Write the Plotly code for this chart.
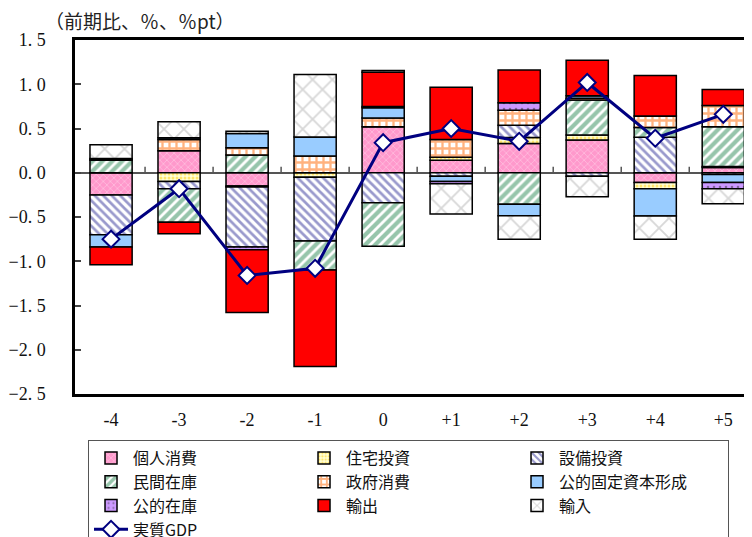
import plotly.graph_objects as go

categories = ["-4", "-3", "-2", "-1", "0", "+1", "+2", "+3", "+4", "+5"]

personal_consumption = [-0.25, 0.25, -0.15, 0.0, 0.52, 0.14, 0.33, 0.37, -0.11, 0.06]
housing_investment = [0.0, -0.10, -0.01, -0.05, 0.0, 0.035, 0.067, 0.056, -0.07, 0.01]
business_investment = [-0.45, -0.08, -0.68, -0.72, -0.34, -0.04, 0.14, -0.04, 0.40, -0.02]
private_inventory = [0.14, -0.38, 0.20, -0.33, -0.49, 0.0, -0.355, 0.395, 0.11, 0.45]
government_consumption = [0.01, 0.125, 0.083, 0.19, 0.10, 0.20, 0.17, 0.02, 0.13, 0.24]
public_investment = [-0.14, 0.02, 0.16, 0.215, 0.115, -0.06, -0.13, 0.03, -0.31, -0.09]
public_inventory = [0.01, 0.0, -0.03, 0.0, 0.015, -0.025, 0.083, 0.0, 0.0, -0.07]
exports = [-0.20, -0.13, -0.71, -1.09, 0.385, 0.59, 0.37, 0.40, 0.46, 0.18]
imports = [0.155, 0.18, 0.025, 0.705, 0.02, -0.34, -0.265, -0.23, -0.26, -0.17]
real_gdp = [-0.75, -0.18, -1.16, -1.08, 0.34, 0.50, 0.355, 1.02, 0.39, 0.66]

y_tick_vals = [1.5, 1.0, 0.5, 0.0, -0.5, -1.0, -1.5, -2.0, -2.5]
y_tick_text = ["1. 5", "1. 0", "0. 5", "0. 0", "−0. 5", "−1. 0", "−1. 5", "−2. 0", "−2. 5"]

JP = "Noto Sans CJK JP"
SERIF = "Liberation Serif"

series = [
    ("個人消費", personal_consumption, dict(shape="x", bgcolor="#ff99cc", fgcolor="#ffe0ef", size=5, solidity=0.3)),
    ("住宅投資", housing_investment, dict(shape=".", bgcolor="#ffffd8", fgcolor="#ffcc00", size=4, solidity=0.45)),
    ("設備投資", business_investment, dict(shape="\\", bgcolor="white", fgcolor="#333399", size=6, solidity=0.45)),
    ("民間在庫", private_inventory, dict(shape="/", bgcolor="white", fgcolor="#2e8b57", size=7, solidity=0.6)),
    ("政府消費", government_consumption, dict(shape="+", bgcolor="white", fgcolor="#ff6600", size=7, solidity=0.55)),
    ("公的固定資本形成", public_investment, dict(shape="", bgcolor="#99ccff", fgcolor="#99ccff")),
    ("公的在庫", public_inventory, dict(shape=".", bgcolor="#cc99ff", fgcolor="#333333", size=6, solidity=0.15)),
    ("輸出", exports, dict(shape="", bgcolor="#ff0000", fgcolor="#ff0000")),
    ("輸入", imports, dict(shape="x", bgcolor="white", fgcolor="#b0b0b0", size=14, solidity=0.25)),
]

fig = go.Figure()
for name, vals, pat in series:
    color = pat["bgcolor"]
    fig.add_trace(go.Bar(
        x=categories, y=vals, name=name, width=0.62,
        marker=dict(color=color, line=dict(color="black", width=1.5),
                    pattern=pat if pat["shape"] else None),
    ))

fig.add_trace(go.Scatter(
    x=categories, y=real_gdp, name="実質GDP", mode="lines+markers",
    line=dict(color="#000080", width=3),
    marker=dict(symbol="diamond", size=13, color="white", line=dict(color="#000080", width=2)),
))

# small category-boundary ticks on the zero line
for i in range(len(categories) - 1):
    fig.add_shape(type="line", xref="x", yref="y", x0=i + 0.5, x1=i + 0.5,
                  ysizemode="pixel", yanchor=0, y0=0, y1=6,
                  line=dict(color="#555555", width=1.5))

fig.add_annotation(text="（前期比、％、％pt）", xref="paper", yref="paper",
                   x=-0.046, y=1.0, xanchor="left", yanchor="bottom", yshift=4,
                   showarrow=False, font=dict(family=JP, size=19, color="#222"))

fig.update_layout(
    width=752, height=537,
    margin=dict(l=67, r=0, t=32, b=151, autoexpand=False),
    barmode="relative",
    paper_bgcolor="white", plot_bgcolor="white",
    showlegend=True,
    legend=dict(orientation="h", x=0.019, y=-0.13, xanchor="left", yanchor="top",
                entrywidth=164, entrywidthmode="pixels",
                bordercolor="#555555", borderwidth=1,
                font=dict(family=JP, size=16, color="#111"),
                tracegroupgap=0, itemwidth=34),
    xaxis=dict(type="category", range=[-0.53, 9.54], showline=True, mirror=True,
               linecolor="black", linewidth=2.5, ticks="", showgrid=False,
               tickfont=dict(family=SERIF, size=18, color="#111"),
               ticklabelstandoff=8),
    yaxis=dict(range=[-2.5, 1.5], tickvals=y_tick_vals, ticktext=y_tick_text,
               showline=True, linecolor="black", linewidth=2.5,
               ticks="inside", ticklen=6, tickwidth=1.5, tickcolor="#444",
               showgrid=False, zeroline=True, zerolinecolor="#555555", zerolinewidth=2,
               tickfont=dict(family=SERIF, size=18, color="#111"),
               ticklabelstandoff=23),
)

fig.write_html("out.html")
